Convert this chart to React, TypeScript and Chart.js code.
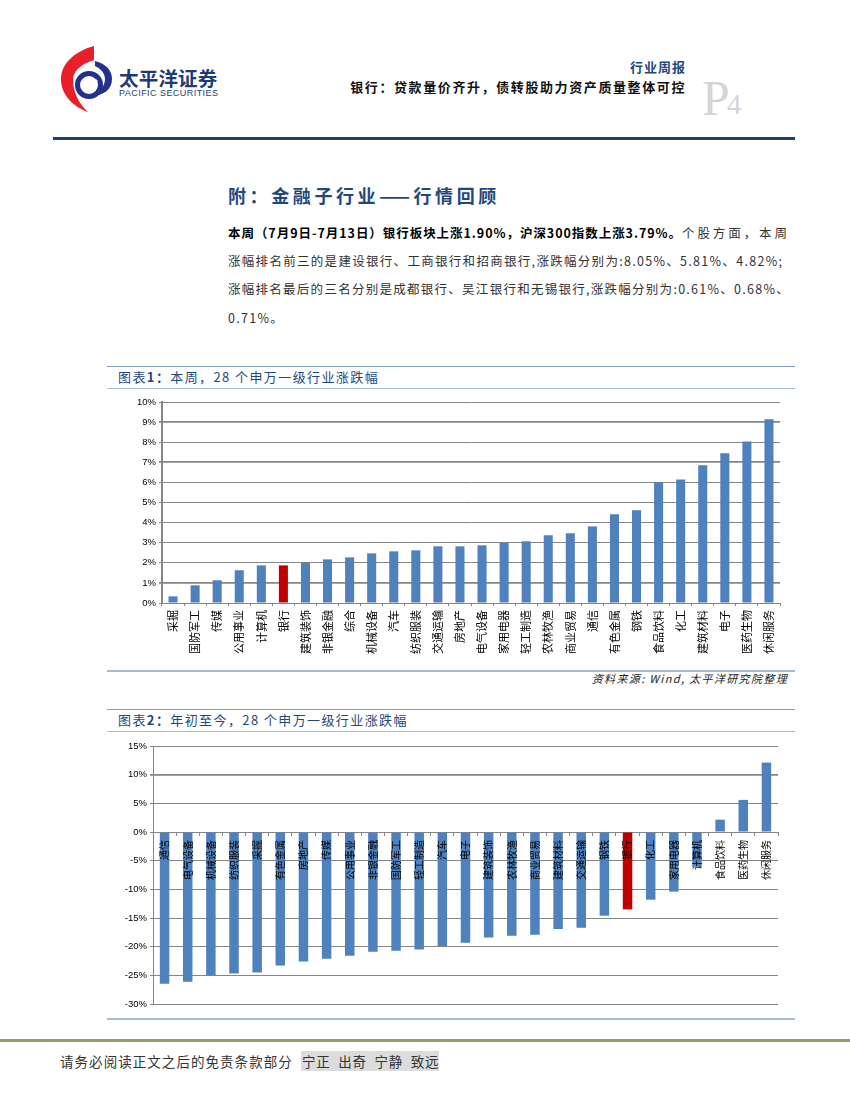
import React, { useEffect, useRef } from "react";
import { Chart, registerables } from "chart.js";

Chart.register(...registerables);

const weekCategories = ["采掘", "国防军工", "传媒", "公用事业", "计算机", "银行", "建筑装饰", "非银金融", "综合", "机械设备", "汽车", "纺织服装", "交通运输", "房地产", "电气设备", "家用电器", "轻工制造", "农林牧渔", "商业贸易", "通信", "有色金属", "钢铁", "食品饮料", "化工", "建筑材料", "电子", "医药生物", "休闲服务"];
const weekValues = [0.33, 0.88, 1.13, 1.63, 1.87, 1.87, 2.0, 2.17, 2.27, 2.47, 2.57, 2.62, 2.82, 2.82, 2.87, 3.0, 3.07, 3.37, 3.47, 3.81, 4.41, 4.61, 5.99, 6.15, 6.85, 7.45, 8.03, 9.14];

const ytdCategories = ["通信", "电气设备", "机械设备", "纺织服装", "采掘", "有色金属", "房地产", "传媒", "公用事业", "非银金融", "国防军工", "轻工制造", "汽车", "电子", "建筑装饰", "农林牧渔", "商业贸易", "建筑材料", "交通运输", "钢铁", "银行", "化工", "家用电器", "计算机", "食品饮料", "医药生物", "休闲服务"];
const ytdValues = [-26.45, -26.1, -25.0, -24.7, -24.5, -23.3, -22.6, -22.1, -21.6, -20.9, -20.7, -20.5, -19.9, -19.3, -18.4, -18.1, -17.9, -16.9, -16.7, -14.6, -13.5, -11.8, -10.4, -6.05, 2.15, 5.6, 12.1];

const BLUE = "#4F81BD";
const RED = "#C00000";
const GRID = "#868686";
const HEAD = "#1F497D";
const CJK = '"Noto Sans CJK SC", sans-serif';

function BarChart(props: {
  labels: string[]; values: number[]; min: number; max: number; step: number;
  left: number; top: number; width: number; height: number;
  yWidth: number; xHeight?: number; padTop: number; padRight: number; padBottom: number;
  heavy: number[]; axisWidth: number; fontSize: number; crossZero: boolean; labelPad: number;
}) {
  const ref = useRef<HTMLCanvasElement>(null);
  useEffect(() => {
    const chart = new Chart(ref.current as HTMLCanvasElement, {
      type: "bar",
      data: {
        labels: props.labels,
        datasets: [{
          data: props.values,
          backgroundColor: props.labels.map((l) => (l === "银行" ? RED : BLUE)),
          barPercentage: 0.41,
          categoryPercentage: 1,
        }],
      },
      options: {
        responsive: false,
        animation: false,
        layout: { padding: { top: props.padTop, right: props.padRight, bottom: props.padBottom, left: 0 } },
        plugins: { legend: { display: false }, tooltip: { enabled: false }, title: { display: false } },
        scales: {
          x: {
            position: props.crossZero ? { y: 0 } : "bottom",
            grid: { drawOnChartArea: false, drawTicks: true, tickLength: 3, color: GRID, lineWidth: 1 },
            border: { display: true, color: GRID, width: 1 },
            ticks: {
              autoSkip: false, minRotation: 90, maxRotation: 90, padding: props.labelPad, z: 1,
              color: "#000000", font: { family: CJK, size: props.fontSize },
            },
            afterFit: (s: any) => { if (props.xHeight) s.height = props.xHeight; },
          },
          y: {
            min: props.min, max: props.max,
            grid: {
              color: GRID, tickLength: 3,
              lineWidth: (c: any) => (props.heavy.includes(c.tick?.value) ? 1.8 : 1),
            },
            border: { display: true, color: GRID, width: props.axisWidth },
            ticks: {
              stepSize: props.step, padding: 3, color: "#000000",
              font: { family: '"Liberation Sans", sans-serif', size: 9.5 },
              callback: (v: any) => `${v}%`,
            },
            afterFit: (s: any) => { s.width = props.yWidth; },
          },
        },
      } as any,
    });
    return () => chart.destroy();
  }, []);
  return (
    <canvas ref={ref} width={props.width} height={props.height}
      style={{ position: "absolute", left: props.left, top: props.top, width: props.width, height: props.height }} />
  );
}

function Txt(p: { x?: number; right?: number; y: number; size: number; color?: string; bold?: boolean; ls?: number; italic?: boolean; family?: string; children: React.ReactNode }) {
  return (
    <div style={{
      position: "absolute", left: p.x, right: p.right === undefined ? undefined : 850 - p.right, top: p.y,
      transform: "translateY(-50%)", fontSize: p.size, lineHeight: 1.2, whiteSpace: "pre",
      color: p.color ?? "#222", fontWeight: p.bold ? 700 : 400, letterSpacing: p.ls ?? 0,
      fontStyle: p.italic ? "italic" : "normal", fontFamily: p.family ?? CJK,
    }}>{p.children}</div>
  );
}

function Rule(p: { x: number; right: number; y: number; h: number; color: string }) {
  return <div style={{ position: "absolute", left: p.x, top: p.y, width: p.right - p.x, height: p.h, background: p.color }} />;
}

export default function App() {
  return (
    <div style={{ position: "absolute", left: 0, top: 0, width: 850, height: 1100, background: "#fff", overflow: "hidden" }}>
      <svg width={60} height={72} viewBox="60 44 60 72" style={{ position: "absolute", left: 60, top: 44 }}>
        <path d="M94 46 C72 52 60 66 61 81 C62 96 74 107 88 112 C79 104 73 92 73 80 C73 71 81 64 94 60 Z" fill="#E8202A" />
        <path d="M95 61 C106 64 112 70 112 79 C112 90 103 96 90 96 C100 92 105 86 105 79 C105 73 100 68 95 66 Z" fill="#24318C" />
        <circle cx="89" cy="85" r="11.5" fill="none" stroke="#24318C" strokeWidth="5" />
        <path d="M84 88 C90 90 93 84 97 80" fill="none" stroke="#fff" strokeWidth="2.5" />
      </svg>
      <Txt x={119} y={78} size={19.5} bold color="#1F3A7A" ls={0.2}>太平洋证券</Txt>
      <Txt x={119} y={92.5} size={9} color="#24407F" ls={0.45} family='"Liberation Sans", sans-serif'>PACIFIC SECURITIES</Txt>

      <Txt right={686} y={67} size={13} bold color={HEAD} ls={1}>行业周报</Txt>
      <Txt right={686} y={87} size={13} bold color="#111" ls={1.6}>银行：贷款量价齐升，债转股助力资产质量整体可控</Txt>
      <Txt x={702} y={98} size={50} color="#D4D4D4" family='"Liberation Serif", serif'>P</Txt>
      <Txt x={727} y={104} size={29} color="#D4D4D4" family='"Liberation Serif", serif'>4</Txt>
      <Rule x={53} right={795} y={137} h={3} color="#1F3F66" />

      <Txt x={228} y={196} size={18} bold color={HEAD} ls={3.6}>附：金融子行业——行情回顾</Txt>
      <Txt x={228} y={232} size={12.5} color="#333" ls={1.3}>
        <span style={{ fontWeight: 700, color: "#000", letterSpacing: 0.95 }}>本周（7月9日-7月13日）银行板块上涨1.90%，沪深300指数上涨3.79%。</span>
        <span style={{ letterSpacing: 2.9 }}>个股方面，本周</span>
      </Txt>
      <Txt x={228} y={260} size={12.5} color="#333" ls={1.3}>涨幅排名前三的是建设银行、工商银行和招商银行,涨跌幅分别为:8.05%、5.81%、4.82%;</Txt>
      <Txt x={228} y={288} size={12.5} color="#333" ls={1.27}>涨幅排名最后的三名分别是成都银行、吴江银行和无锡银行,涨跌幅分别为:0.61%、0.68%、</Txt>
      <Txt x={228} y={317} size={12.5} color="#333" ls={1.3}>0.71%。</Txt>

      <Rule x={107} right={795} y={366} h={1} color="#7F9DB9" />
      <Txt x={118} y={377} size={13} color={HEAD} ls={1.4}>图表<b>1：</b>本周，28 个申万一级行业涨跌幅</Txt>
      <Rule x={107} right={795} y={388} h={1} color="#A9BCCF" />
      <BarChart labels={weekCategories} values={weekValues} min={0} max={10} step={1}
        left={100} top={390} width={690} height={275} yWidth={62} xHeight={62}
        padTop={12} padRight={10} padBottom={0} heavy={[9, 7, 1]} axisWidth={2}
        fontSize={11} crossZero={false} labelPad={4} />
      <Rule x={107} right={795} y={670} h={2} color="#A9BCCF" />
      <Txt right={788} y={679} size={11} italic color="#222" ls={1.35}>资料来源: Wind, 太平洋研究院整理</Txt>

      <Rule x={107} right={795} y={709} h={1} color="#7F9DB9" />
      <Txt x={118} y={720} size={13} color={HEAD} ls={1.4}>图表<b>2：</b>年初至今，28 个申万一级行业涨跌幅</Txt>
      <Rule x={107} right={795} y={731} h={1} color="#A9BCCF" />
      <BarChart labels={ytdCategories} values={ytdValues} min={-30} max={15} step={5}
        left={100} top={735} width={690} height={280} yWidth={53} padTop={11} padRight={12} padBottom={11}
        heavy={[10]} axisWidth={1} fontSize={10} crossZero labelPad={5} />
      <Rule x={107} right={795} y={1018} h={2} color="#A9BCCF" />

      <Rule x={0} right={850} y={1039} h={3} color="#9C9A6A" />
      <div style={{ position: "absolute", left: 301, top: 1051, width: 138, height: 20, background: "#DCDCDC" }} />
      <Txt x={60} y={1061} size={13.5} color="#333" ls={1.05}>请务必阅读正文之后的免责条款部分</Txt>
      <Txt x={302} y={1061} size={13.5} color="#333" ls={0.8}>宁正  出奇  宁静  致远</Txt>
    </div>
  );
}
